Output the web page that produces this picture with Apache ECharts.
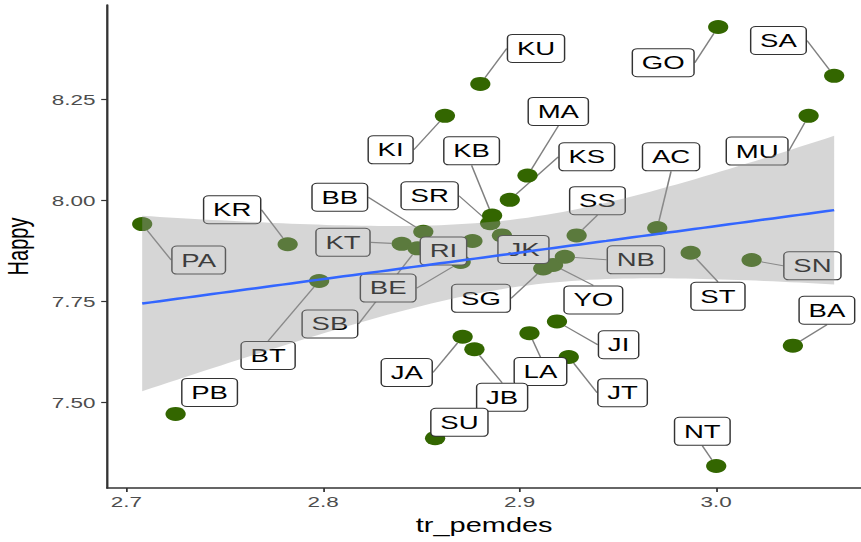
<!DOCTYPE html>
<html>
<head>
<meta charset="utf-8">
<script src="https://cdn.jsdelivr.net/npm/echarts@6/dist/echarts.min.js"></script>
<style>
  html, body { margin: 0; padding: 0; background: #fff; overflow: hidden; width: 861px; height: 542px; }
  #chart { position: absolute; left: 0; top: 0; height: 542px; transform-origin: 0 0; }
</style>
</head>
<body>
<div id="chart"></div>
<script>
// Observations: code, tr_pemdes score, Happy score
const codes = ['PA','KR','PB','BT','KT','SB','BB','KI','KU','RI','BE','SR','KB','JK','KS','MA','SG',
               'YO','NB','SS','AC','GO','SA','MU','ST','SN','BA','NT','JI','JT','LA','JA','JB','SU'];
const trPemdes = [2.708, 2.782, 2.725, 2.798, 2.840, 2.848, 2.851, 2.862, 2.880, 2.876, 2.870, 2.885,
                  2.886, 2.891, 2.895, 2.904, 2.912, 2.917, 2.923, 2.929, 2.970, 3.001, 3.060, 3.047,
                  2.987, 3.018, 3.039, 3.000, 2.919, 2.925, 2.905, 2.871, 2.877, 2.857];
const happy = [7.942, 7.892, 7.472, 7.801, 7.893, 7.882, 7.923, 8.210, 8.289, 7.900, 7.848, 7.944,
               7.963, 7.914, 8.002, 8.062, 7.832, 7.841, 7.861, 7.914, 7.932, 8.430, 8.309, 8.210,
               7.871, 7.853, 7.641, 7.343, 7.701, 7.613, 7.672, 7.663, 7.632, 7.412];

// Axis ticks
const xTicks = [2.7, 2.8, 2.9, 3.0];
const yTicks = [7.50, 7.75, 8.00, 8.25];

// Repelled label placement: offset of each label centre from its point, in page pixels
const labelOffsets = [
  [56.5, 36], [-55.5, -34.5], [34, -21.5], [-51, 74.5], [-58.7, -1.5], [-87.5, 75.7], [-83.5, -34.5],
  [-54.3, 34], [55.7, -35.5], [-29, 10], [-72.5, 26], [-60.5, -27.5], [-20.5, -64.8], [21.5, 14],
  [77, -43], [30.8, -64.2], [-62.2, 29.8], [40.3, 35], [71, 3], [20.8, -34.7], [13.8, -71.3],
  [-55, 35.7], [-55.7, -35.3], [-51.5, 35.3], [27.3, 43.6], [60.8, 5.8], [34, -35.4], [-13.9, -34.7],
  [61.6, 23.3], [53.8, 35.7], [11, 38.4], [-55.9, 35.8], [27.7, 48], [24.3, -15.8]
];
// labels sitting right next to their point get no connector
const noConnector = ['PB', 'RI', 'JK', 'SU'];

// The figure is drawn at a narrower width and widened horizontally on the page
const ASPECT = 1.45;
const PAGE_W = 861;
const chartEl = document.getElementById('chart');
chartEl.style.width = (PAGE_W / ASPECT) + 'px';
chartEl.style.transform = 'scaleX(' + ASPECT + ')';

// Ordinary least squares fit with a 95% confidence band (80 evaluation points)
const n = trPemdes.length;
const mx = trPemdes.reduce((s, v) => s + v, 0) / n;
const my = happy.reduce((s, v) => s + v, 0) / n;
let sxx = 0, sxy = 0;
for (let i = 0; i < n; i++) {
  sxx += (trPemdes[i] - mx) ** 2;
  sxy += (trPemdes[i] - mx) * (happy[i] - my);
}
const slope = sxy / sxx;
const intercept = my - slope * mx;
let sse = 0;
for (let i = 0; i < n; i++) sse += (happy[i] - intercept - slope * trPemdes[i]) ** 2;
const sigma = Math.sqrt(sse / (n - 2));
const tCrit = 2.0369; // t quantile 0.975, 32 df
const xMinData = Math.min(...trPemdes), xMaxData = Math.max(...trPemdes);
const fitLine = [], bandUpper = [], bandLower = [];
for (let k = 0; k < 80; k++) {
  const x = xMinData + (xMaxData - xMinData) * k / 79;
  const y = intercept + slope * x;
  const se = sigma * Math.sqrt(1 / n + (x - mx) ** 2 / sxx);
  fitLine.push([x, y]);
  bandUpper.push([x, y + tCrit * se]);
  bandLower.push([x, y - tCrit * se]);
}

// y range padded 5% of the data span
const yMinData = Math.min(...happy), yMaxData = Math.max(...happy);
const yPad = (yMaxData - yMinData) * 0.05;

const points = codes.map((c, i) => ({
  name: c,
  value: [trPemdes[i], happy[i]],
  labelLine: { show: noConnector.indexOf(c) < 0 }
}));

const FONT = 'Liberation Sans, Arial, sans-serif';
const chart = echarts.init(chartEl, null, { renderer: 'svg' });
chart.setOption({
  animation: false,
  backgroundColor: '#fff',
  grid: { left: 107 / ASPECT, right: 0, top: 5, bottom: 54, containLabel: false, outerBoundsMode: 'none' },
  xAxis: {
    type: 'value',
    min: 2.6901,
    max: 3.0738,
    name: 'tr_pemdes',
    nameLocation: 'middle',
    nameGap: 20,
    nameTextStyle: { fontFamily: FONT, fontSize: 20, color: '#000' },
    axisLine: { show: true, onZero: false, lineStyle: { color: '#333', width: 1.6 } },
    axisTick: { show: true, length: 4, customValues: xTicks, lineStyle: { color: '#333', width: 1.2 } },
    axisLabel: { customValues: xTicks, margin: 6, fontFamily: FONT, fontSize: 15.5, color: '#4d4d4d',
                 formatter: v => v.toFixed(1) },
    splitLine: { show: false }
  },
  yAxis: {
    type: 'value',
    min: yMinData - yPad,
    max: yMaxData + yPad,
    name: 'Happy',
    nameLocation: 'middle',
    nameGap: 52,
    nameRotate: 90,
    nameTextStyle: { fontFamily: FONT, fontSize: 20, color: '#000' },
    axisLine: { show: true, onZero: false, lineStyle: { color: '#333', width: 1.6 } },
    axisTick: { show: true, length: 4, customValues: yTicks, lineStyle: { color: '#333', width: 1.2 } },
    axisLabel: { customValues: yTicks, margin: 8, fontFamily: FONT, fontSize: 15.5, color: '#4d4d4d',
                 formatter: v => v.toFixed(2) },
    splitLine: { show: false }
  },
  series: [
    {
      type: 'scatter',
      z: 2,
      data: points,
      symbol: 'circle',
      symbolSize: 14,
      itemStyle: { color: '#336600', opacity: 1 },
      emphasis: { disabled: true },
      label: {
        show: true,
        position: 'inside',
        formatter: p => p.name,
        fontFamily: FONT,
        fontSize: 19,
        lineHeight: 19,
        color: '#000',
        backgroundColor: '#fff',
        borderColor: '#333',
        borderWidth: 1,
        borderRadius: 3,
        padding: [4, 6]
      },
      labelLine: { show: true, lineStyle: { color: '#808080', width: 1.1 } },
      labelLayout: function (params) {
        const o = labelOffsets[params.dataIndex];
        const cx = params.rect.x + params.rect.width / 2;
        const cy = params.rect.y + params.rect.height / 2;
        return { x: cx + o[0] / ASPECT, y: cy + o[1], align: 'center', verticalAlign: 'middle' };
      }
    },
    {
      // confidence band, laid over points and labels
      type: 'custom',
      z: 3,
      silent: true,
      data: [[xMinData, yMinData]],
      renderItem: function (params, api) {
        const pts = bandUpper.map(p => api.coord(p))
          .concat(bandLower.slice().reverse().map(p => api.coord(p)));
        return { type: 'polygon', shape: { points: pts }, style: { fill: 'rgba(153,153,153,0.4)' } };
      }
    },
    {
      type: 'line',
      z: 4,
      silent: true,
      data: fitLine,
      showSymbol: false,
      lineStyle: { color: '#3366FF', width: 2.5 }
    }
  ]
});
</script>
</body>
</html>
